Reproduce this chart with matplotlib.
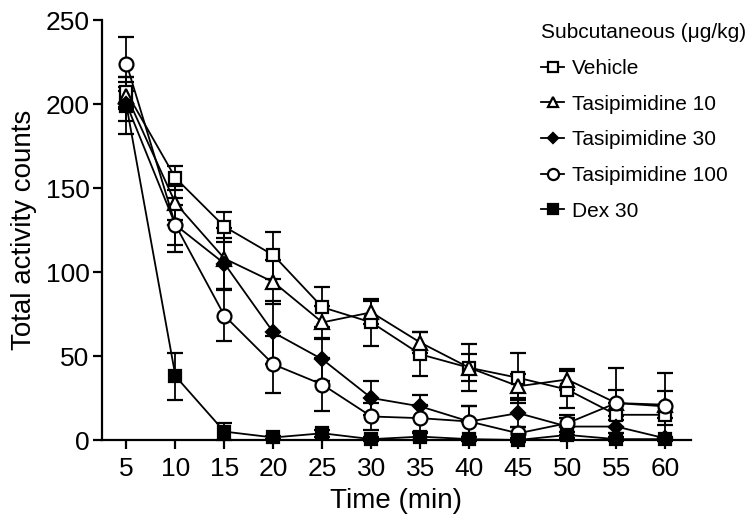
import matplotlib
matplotlib.use("Agg")
import matplotlib.pyplot as plt
from matplotlib.lines import Line2D

plt.rcParams['font.family'] = ['Liberation Sans', 'DejaVu Sans']

time_min = [5, 10, 15, 20, 25, 30, 35, 40, 45, 50, 55, 60]
x_ticks = [5, 10, 15, 20, 25, 30, 35, 40, 45, 50, 55, 60]
y_ticks = [0, 50, 100, 150, 200, 250]

vehicle = [207, 156, 127, 110, 79, 70, 51, 43, 37, 30, 15, 15]
vehicle_err = [9, 7, 9, 14, 12, 14, 13, 14, 15, 11, 7, 6]

tasip10 = [205, 141, 108, 94, 70, 76, 58, 43, 32, 36, 22, 21]
tasip10_err = [8, 10, 18, 13, 10, 7, 6, 8, 7, 6, 8, 8]

tasip30 = [200, 128, 105, 64, 48, 25, 20, 11, 16, 8, 8, 1]
tasip30_err = [10, 12, 15, 19, 13, 10, 7, 9, 8, 5, 4, 1]

tasip100 = [224, 128, 74, 45, 33, 14, 13, 11, 4, 10, 22, 20]
tasip100_err = [16, 16, 15, 17, 16, 8, 8, 9, 4, 5, 21, 20]

dex30 = [199, 38, 5, 1.5, 4, 0.5, 2, 0.5, 0, 3, 0.5, 0.5]
dex30_err = [17, 14, 5, 1, 2, 1, 2, 1, 1, 2, 1, 1]

labels = ['Vehicle', 'Tasipimidine 10', 'Tasipimidine 30', 'Tasipimidine 100', 'Dex 30']

series = [
    (vehicle, vehicle_err, 's', 'white', 9),
    (tasip10, tasip10_err, '^', 'white', 9.5),
    (tasip30, tasip30_err, 'D', 'black', 7),
    (tasip100, tasip100_err, 'o', 'white', 10),
    (dex30, dex30_err, 's', 'black', 9),
]

fig = plt.figure(figsize=(7.56, 5.24), dpi=100)
ax = fig.add_axes([101.5 / 756, 1 - 440 / 524, (690.7 - 101.5) / 756, 420 / 524])

handles = []
for (vals, errs, mk, fc, ms), lab in zip(series, labels):
    eb = ax.errorbar(time_min, vals, yerr=errs, fmt='-', marker=mk, color='black',
                     mfc=fc, mec='black', ms=ms, mew=1.6, lw=1.3,
                     elinewidth=1.3, capsize=6, capthick=1.3, clip_on=False, zorder=3)
    for c in eb.lines[1]:
        c.set_clip_on(False)
    for c in eb.lines[2]:
        c.set_clip_on(False)
    handles.append(Line2D([], [], color='black', marker=mk, mfc=fc, mec='black',
                          ms=ms * 0.8, mew=1.6, lw=1.3))

ax.set_xlim(2.45, 62.6)
ax.set_ylim(0, 250)
ax.set_xticks(x_ticks)
ax.set_yticks(y_ticks)
ax.spines['top'].set_visible(False)
ax.spines['right'].set_visible(False)
for s in ['left', 'bottom']:
    ax.spines[s].set_linewidth(1.6)
ax.tick_params(axis='both', width=1.6, length=6.5, labelsize=19, color='black')
ax.tick_params(axis='x', pad=6)
ax.tick_params(axis='y', pad=2)

ax.set_xlabel('Time (min)', fontsize=20, labelpad=5)
ax.set_ylabel('Total activity counts', fontsize=20, labelpad=6)

leg = ax.legend(handles, labels, title='Subcutaneous (\u03bcg/kg)', loc='upper left',
                bbox_to_anchor=(533 / 756, 1 - 15 / 524), bbox_transform=fig.transFigure,
                frameon=False, fontsize=15, title_fontsize=15, handlelength=1.1,
                handletextpad=0.35, labelspacing=0.8, alignment='left', borderaxespad=0)

fig.savefig('out.png', dpi=100)
